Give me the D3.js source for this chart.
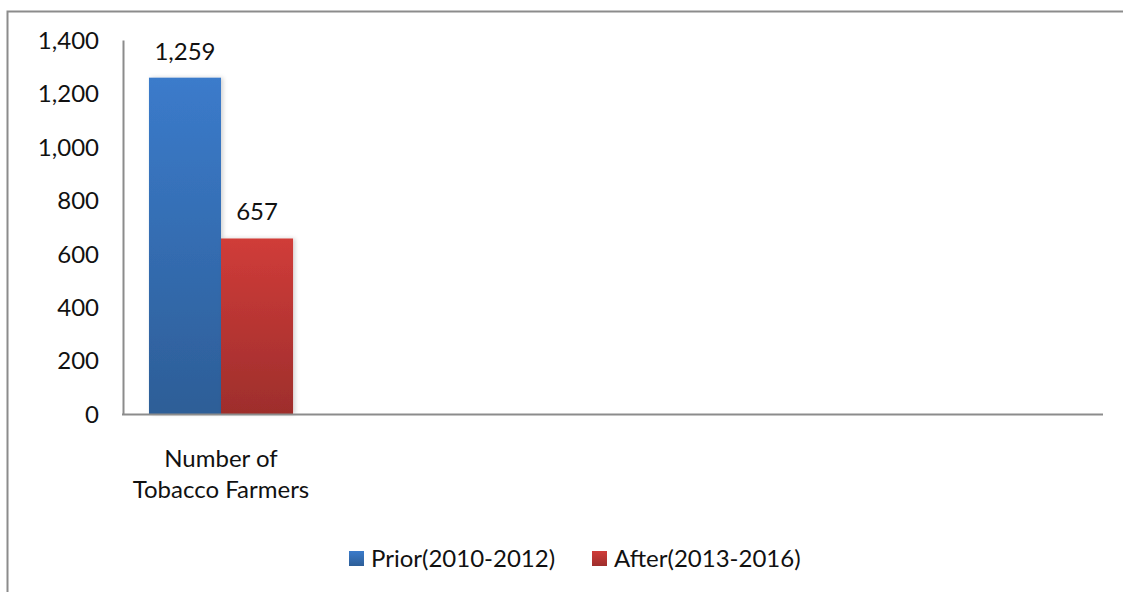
<!DOCTYPE html>
<meta charset="utf-8">
<style>
  body { margin: 0; background: #fff; }
  text { font-family: Lato, "Open Sans", sans-serif; fill: #111; }
</style>
<body>
<script src="https://d3js.org/d3.v7.min.js"></script>
<script>
// chart values
var categories = [["Number of", "Tobacco Farmers"], [], [], [], []];
var seriesNames = ["Prior(2010-2012)", "After(2013-2016)"];
var prior = [1259, null, null, null, null];
var after = [657, null, null, null, null];
var yTicks = [0, 200, 400, 600, 800, 1000, 1200, 1400];

var W = 1123, H = 592;
var svg = d3.select("body").append("svg")
    .attr("width", W)
    .attr("height", H);

var defs = svg.append("defs");
function grad(id, c0, c1) {
  var g = defs.append("linearGradient").attr("id", id)
      .attr("x1", 0).attr("y1", 0).attr("x2", 0).attr("y2", 1);
  g.append("stop").attr("offset", "0%").attr("stop-color", c0);
  g.append("stop").attr("offset", "100%").attr("stop-color", c1);
}
grad("gBlue", "#3b7bcb", "#2d5e97");
grad("gRed", "#d03c39", "#9e2e2c");
var fills = ["url(#gBlue)", "url(#gRed)"];

var f = defs.append("filter").attr("id", "shadow")
    .attr("x", "-10%").attr("y", "-10%").attr("width", "130%").attr("height", "130%");
f.append("feDropShadow").attr("dx", 2).attr("dy", 0).attr("stdDeviation", 2)
    .attr("flood-color", "#000").attr("flood-opacity", 0.18);

// outer frame (only left and top edges visible)
svg.append("path")
    .attr("d", "M7.5," + H + "V11.5H" + W)
    .attr("fill", "none")
    .attr("stroke", "#8c8c8c")
    .attr("stroke-width", 2);

var plotL = 123, plotR = 1103, plotT = 40, plotB = 414;
var fs = "24px";

var x = d3.scaleBand()
    .domain(d3.range(categories.length))
    .range([plotL, plotR])
    .paddingInner(0.265)
    .paddingOuter(0.1325);
var x1 = d3.scaleBand()
    .domain(d3.range(seriesNames.length))
    .range([0, x.bandwidth()]);
var y = d3.scaleLinear().domain([0, 1400]).range([plotB, plotT]);

var yAxis = d3.axisLeft(y).tickValues(yTicks).tickSize(0).tickPadding(24)
    .tickFormat(d3.format(","));
var gy = svg.append("g").attr("transform", "translate(" + plotL + ",0)").call(yAxis);
gy.select(".domain").attr("stroke", "#8c8c8c").attr("stroke-width", 2);
gy.selectAll("text").style("font-size", fs).style("font-family", null).attr("dy", "0.35em");

var data = [prior, after];
data.forEach(function(vals, s) {
  var g = svg.append("g");
  var pts = vals.map(function(v, i) { return {i: i, v: v}; })
      .filter(function(d) { return d.v != null; });
  g.selectAll("rect").data(pts).enter().append("rect")
      .attr("x", function(d) { return x(d.i) + x1(s); })
      .attr("y", function(d) { return y(d.v); })
      .attr("width", x1.bandwidth())
      .attr("height", function(d) { return y(0) - y(d.v); })
      .attr("fill", fills[s])
      .attr("filter", "url(#shadow)");
  g.selectAll("text").data(pts).enter().append("text")
      .attr("x", function(d) { return x(d.i) + x1(s) + x1.bandwidth() / 2; })
      .attr("y", function(d) { return y(d.v) - 18; })
      .attr("text-anchor", "middle")
      .style("font-size", fs)
      .text(function(d) { return d3.format(",")(d.v); });
});

// x axis line
svg.append("line")
    .attr("x1", plotL - 1).attr("x2", plotR)
    .attr("y1", plotB + 0.5).attr("y2", plotB + 0.5)
    .attr("stroke", "#8c8c8c").attr("stroke-width", 2);

// category labels
categories.forEach(function(lines, i) {
  var cx = x(i) + x.bandwidth() / 2;
  var t = svg.append("text")
      .attr("x", cx)
      .attr("y", 467)
      .attr("text-anchor", "middle")
      .style("font-size", fs);
  lines.forEach(function(l, k) {
    t.append("tspan").attr("x", cx).attr("dy", k ? 31 : 0).text(l);
  });
});

// legend
var legendX = [349, 592];
seriesNames.forEach(function(name, s) {
  svg.append("rect")
      .attr("x", legendX[s]).attr("y", 551)
      .attr("width", 15).attr("height", 15)
      .attr("fill", fills[s]);
  svg.append("text")
      .attr("x", legendX[s] + 22).attr("y", 558.5)
      .attr("dy", "0.35em")
      .style("font-size", fs)
      .text(name);
});
</script>
</body>
